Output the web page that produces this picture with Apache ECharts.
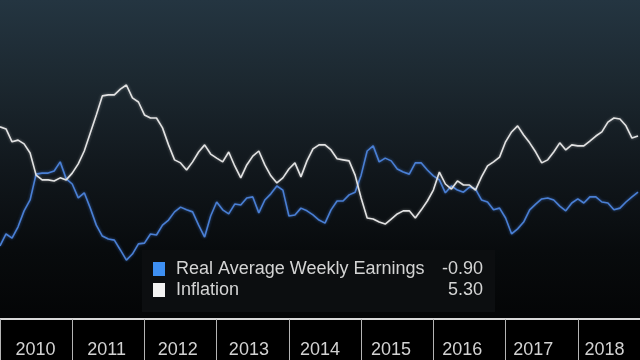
<!DOCTYPE html>
<html>
<head>
<meta charset="utf-8">
<script src="https://cdn.jsdelivr.net/npm/echarts@6/dist/echarts.min.js"></script>
<style>
html,body{margin:0;padding:0;width:640px;height:360px;overflow:hidden;}
body{background:linear-gradient(180deg,#243541 0px,#1c2830 80px,#11171c 170px,#080b0d 250px,#040506 318px,#000 319px,#000 360px);}
#c{width:640px;height:360px;}
</style>
</head>
<body>
<div id="c"></div>
<script>
// Monthly, Jan 2010 .. Nov 2018
const startYear = 2010;
const monthCount = 107;
const months = [];
for (let i = 0; i < monthCount; i++) {
  const y = startYear + Math.floor(i / 12);
  const m = (i % 12) + 1;
  months.push(y + '-' + (m < 10 ? '0' + m : m));
}
const years = ['2010','2011','2012','2013','2014','2015','2016','2017','2018'];

const earnings = [
 -0.82,-0.47,-0.59,-0.26,0.21,0.53,1.29,1.32,1.32,1.38,1.65,1.15,
 1.00,0.59,0.74,0.29,-0.21,-0.53,-0.62,-0.65,-0.94,-1.24,-1.06,-0.76,
 -0.74,-0.47,-0.50,-0.21,-0.06,0.18,0.32,0.24,0.18,-0.21,-0.56,0.06,
 0.47,0.24,0.12,0.41,0.38,0.59,0.62,0.15,0.53,0.71,0.94,0.82,
 0.06,0.09,0.29,0.21,0.09,-0.06,-0.15,0.24,0.50,0.50,0.68,0.76,
 1.26,1.97,2.12,1.65,1.76,1.68,1.44,1.35,1.29,1.62,1.62,1.41,
 1.24,1.12,0.74,0.94,0.82,0.76,0.91,0.85,0.53,0.47,0.24,0.29,
 0.00,-0.47,-0.32,-0.12,0.24,0.41,0.56,0.59,0.53,0.35,0.21,0.44,
 0.56,0.44,0.62,0.62,0.47,0.44,0.24,0.29,0.47,0.62,0.76
];
const inflation = [
 2.68,2.62,2.24,2.29,2.18,1.91,1.26,1.12,1.12,1.09,1.18,1.12,
 1.32,1.59,1.97,2.50,3.03,3.59,3.62,3.62,3.79,3.91,3.53,3.41,
 3.03,2.94,2.94,2.65,2.15,1.71,1.62,1.41,1.65,1.94,2.15,1.88,
 1.76,1.65,1.94,1.53,1.18,1.56,1.82,1.97,1.56,1.24,1.03,1.18,
 1.44,1.62,1.21,1.68,2.03,2.15,2.15,2.00,1.74,1.71,1.68,1.26,
 0.59,0.00,-0.03,-0.12,-0.18,-0.03,0.12,0.21,0.21,0.00,0.24,0.50,
 0.82,1.35,1.00,0.85,1.09,0.97,0.97,0.82,1.21,1.53,1.65,1.79,
 2.24,2.53,2.71,2.44,2.21,1.94,1.62,1.71,1.94,2.21,2.00,2.15,
 2.12,2.12,2.26,2.41,2.53,2.82,2.94,2.91,2.71,2.35,2.41
];
const seriesNames = ['Real Average Weekly Earnings','Inflation'];
const legendValues = ['-0.90','5.30'];

const chart = echarts.init(document.getElementById('c'), null, {renderer:'canvas'});
const textFont = "'Liberation Sans', Arial, sans-serif";
chart.setOption({
  backgroundColor: 'transparent',
  animation: false,
  grid: [
    {left: 0, top: 0, width: 638, bottom: 41},
    {left: 0, top: 0, width: 650, bottom: 41}
  ],
  xAxis: [
    {
      type: 'category', gridIndex: 0, data: months, boundaryGap: false,
      position: 'bottom',
      axisLine: {show: false, onZero: false},
      axisTick: {show: true, inside: false, length: 41, interval: function (i) { return i % 12 === 0; },
        lineStyle: {color: '#b4b4b4', width: 1}},
      axisLabel: {show: false},
      splitLine: {show: false}
    },
    {
      type: 'category', gridIndex: 1, data: years, boundaryGap: true,
      position: 'bottom',
      axisLine: {show: true, onZero: false, lineStyle: {color: '#d8d8d8', width: 2}},
      axisTick: {show: false},
      axisLabel: {show: true, color: '#d2d2d2', fontSize: 18, fontFamily: textFont, margin: 22},
      splitLine: {show: false}
    }
  ],
  yAxis: [
    {type: 'value', gridIndex: 0, min: -2.97, max: 6.41, show: false},
    {type: 'value', gridIndex: 1, min: 0, max: 1, show: false}
  ],
  legend: {
    orient: 'vertical', left: 142, top: 250,
    padding: [10, 12, 13, 11],
    backgroundColor: '#0c0e10',
    itemWidth: 12, itemHeight: 14, itemGap: 3,
    icon: 'rect',
    data: [
      {name: seriesNames[0], itemStyle: {color: '#3e8ff2'}},
      {name: seriesNames[1], itemStyle: {color: '#f2f2f2'}}
    ],
    formatter: function (name) {
      const idx = seriesNames.indexOf(name);
      return '{n|' + name + '}{v|' + legendValues[idx] + '}';
    },
    textStyle: {
      color: '#d4d4d4', fontSize: 18, fontFamily: textFont,
      rich: {
        n: {width: 255, fontSize: 18, lineHeight: 18, color: '#d4d4d4', fontFamily: textFont, padding: [0, 0, 0, 6]},
        v: {width: 52, align: 'right', fontSize: 18, lineHeight: 18, color: '#d4d4d4', fontFamily: textFont}
      }
    }
  },
  series: [
    {
      name: seriesNames[0], type: 'line', xAxisIndex: 0, yAxisIndex: 0,
      data: earnings, showSymbol: false, smooth: false,
      lineStyle: {color: '#4a7fd4', width: 1.6, shadowColor: 'rgba(70,130,230,0.6)', shadowBlur: 3},
      itemStyle: {color: '#4a7fd4'}
    },
    {
      name: seriesNames[1], type: 'line', xAxisIndex: 0, yAxisIndex: 0,
      data: inflation, showSymbol: false, smooth: false,
      lineStyle: {color: '#e2e2e2', width: 1.6, shadowColor: 'rgba(255,255,255,0.4)', shadowBlur: 3},
      itemStyle: {color: '#e2e2e2'}
    }
  ]
});
</script>
</body>
</html>
